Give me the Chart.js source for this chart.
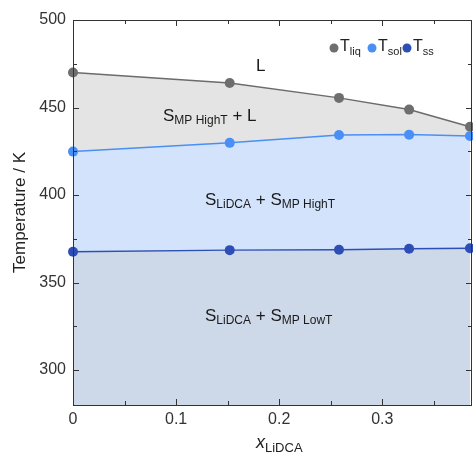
<!DOCTYPE html>
<html>
<head>
<meta charset="utf-8">
<script src="https://cdn.jsdelivr.net/npm/chart.js@4.4.1/dist/chart.umd.min.js"></script>
<style>
  html, body { margin: 0; padding: 0; background: #fff; }
  #wrap { width: 473px; height: 457px; position: relative; }
</style>
</head>
<body>
<div id="wrap"><canvas id="phase"></canvas></div>
<script>
/*==== data ====*/
const xLiDCA = [0, 0.152, 0.258, 0.326, 0.385];
const tLiq = [470, 464, 455.5, 448.8, 439];
const tSol = [424.8, 429.8, 434.3, 434.5, 433.7];
const tSs  = [367.6, 368.5, 368.7, 369.3, 369.6];

const xTicks = [0, 0.1, 0.2, 0.3];
const yTicks = [300, 350, 400, 450, 500];

const FONT = "'Liberation Sans', Arial, sans-serif";

function pts(ys){
    return xLiDCA.map((x, i) => ({x: x, y: ys[i]}));
}

// draws text with subscripts: parts = [[text, isSub], ...]
function drawParts(ctx, parts, x, y, size, subSize){
    var cx = x;
    parts.forEach(p => {
        ctx.font = (p[1] ? subSize : size) + 'px ' + FONT;
        ctx.fillText(p[0], cx, p[1] ? y + size * 0.28 : y);
        cx += ctx.measureText(p[0]).width;
    });
    return cx;
}

/*==== frame, inward ticks, labels ====*/
const decorPlugin = {
    id: 'decor',
    afterDraw(chart){
        const ctx = chart.ctx;
        const a = chart.chartArea;
        const xs = chart.scales.x, ys = chart.scales.y;
        ctx.save();
        ctx.strokeStyle = '#333';
        ctx.lineWidth = 1;
        ctx.strokeRect(a.left + 0.5, a.top + 0.5, a.right - a.left - 1, a.bottom - a.top);

        // x ticks, every 0.05
        for (var k = 0; k <= 8; k++){
            var v = k * 0.05;
            if (v > xs.max) break;
            var px = Math.round(xs.getPixelForValue(v)) + 0.5;
            var len = (k % 2 == 0) ? 6 : 4;
            ctx.beginPath();
            ctx.moveTo(px, a.bottom); ctx.lineTo(px, a.bottom - len);
            ctx.moveTo(px, a.top); ctx.lineTo(px, a.top + len);
            ctx.stroke();
        }
        // y ticks, every 25
        for (var t = 300; t <= 500; t += 25){
            var py = Math.round(ys.getPixelForValue(t)) + 0.5;
            var l2 = (t % 50 == 0) ? 6 : 4;
            ctx.beginPath();
            ctx.moveTo(a.left, py); ctx.lineTo(a.left + l2, py);
            ctx.moveTo(a.right, py); ctx.lineTo(a.right - l2, py);
            ctx.stroke();
        }

        // tick labels
        ctx.fillStyle = '#333';
        ctx.font = '16px ' + FONT;
        ctx.textBaseline = 'middle';
        ctx.textAlign = 'center';
        xTicks.forEach(v => ctx.fillText(String(v), xs.getPixelForValue(v), a.bottom + 15));
        ctx.textAlign = 'right';
        yTicks.forEach(v => ctx.fillText(String(v), a.left - 7, ys.getPixelForValue(v)));

        // axis titles
        ctx.fillStyle = '#222';
        ctx.save();
        ctx.translate(20, (a.top + a.bottom) / 2);
        ctx.rotate(-Math.PI / 2);
        ctx.textAlign = 'center';
        ctx.font = '17px ' + FONT;
        ctx.fillText('Temperature / K', 0, 0);
        ctx.restore();

        ctx.textAlign = 'left';
        ctx.font = 'italic 18px ' + FONT;
        var xt = 256;
        ctx.fillText('x', xt, 443);
        xt += ctx.measureText('x').width;
        drawParts(ctx, [['LiDCA', true]], xt, 444, 17, 13);

        // region labels
        ctx.fillStyle = '#1a1a1a';
        drawParts(ctx, [['L', false]], 256, 66, 17, 12);
        drawParts(ctx, [['S', false], ['MP HighT', true], [' + L', false]], 163, 116, 17, 12);
        drawParts(ctx, [['S', false], ['LiDCA', true], [' + S', false], ['MP HighT', true]], 205, 200, 17, 12);
        drawParts(ctx, [['S', false], ['LiDCA', true], [' + S', false], ['MP LowT', true]], 205, 316, 17, 12);

        // legend
        const leg = [['liq', '#6e6e6e', 334], ['sol', '#4a8ff5', 372], ['ss', '#2d4fb5', 407]];
        leg.forEach(e => {
            ctx.fillStyle = e[1];
            ctx.beginPath();
            ctx.arc(e[2], 48, 4.5, 0, Math.PI * 2);
            ctx.fill();
            ctx.fillStyle = '#222';
            drawParts(ctx, [['T', false], [e[0], true]], e[2] + 6, 47, 16, 11);
        });
        ctx.restore();
    }
};

/*==== chart ====*/
var config_phase = {
    type: 'line',
    data: {
        datasets: [
            {
                label: 'Tss',
                data: pts(tSs),
                borderColor: '#2d4fb5',
                pointBackgroundColor: '#2d4fb5',
                pointBorderColor: '#2d4fb5',
                backgroundColor: '#cdd8e9',
                fill: 'start'
            },
            {
                label: 'Tsol',
                data: pts(tSol),
                borderColor: '#4a8ff5',
                pointBackgroundColor: '#4a8ff5',
                pointBorderColor: '#4a8ff5',
                backgroundColor: '#d2e3fb',
                fill: '-1'
            },
            {
                label: 'Tliq',
                data: pts(tLiq),
                borderColor: '#6b6b6b',
                pointBackgroundColor: '#6e6e6e',
                pointBorderColor: '#6e6e6e',
                backgroundColor: '#e4e4e4',
                fill: '-1'
            }
        ]
    },
    options: {
        responsive: false,
        animation: false,
        layout: { autoPadding: false, padding: { left: 0, top: 20, right: 1, bottom: 0 } },
        elements: {
            line: { borderWidth: 1.5, tension: 0 },
            point: { radius: 5, borderWidth: 0 }
        },
        datasets: { line: { clip: false } },
        plugins: {
            legend: { display: false },
            tooltip: { enabled: false },
            filler: { drawTime: 'beforeDatasetsDraw' }
        },
        scales: {
            x: {
                type: 'linear',
                min: 0,
                max: 0.387,
                grid: { display: false },
                border: { display: false },
                ticks: { display: false },
                afterFit: function(s){ s.height = 52; }
            },
            y: {
                min: 280,
                max: 500,
                grid: { display: false },
                border: { display: false },
                ticks: { display: false },
                afterFit: function(s){ s.width = 73; }
            }
        }
    },
    plugins: [decorPlugin]
};

var canvas = document.getElementById('phase');
canvas.width = 473;
canvas.height = 457;
var phaseChart = new Chart(canvas, config_phase);
</script>
</body>
</html>
